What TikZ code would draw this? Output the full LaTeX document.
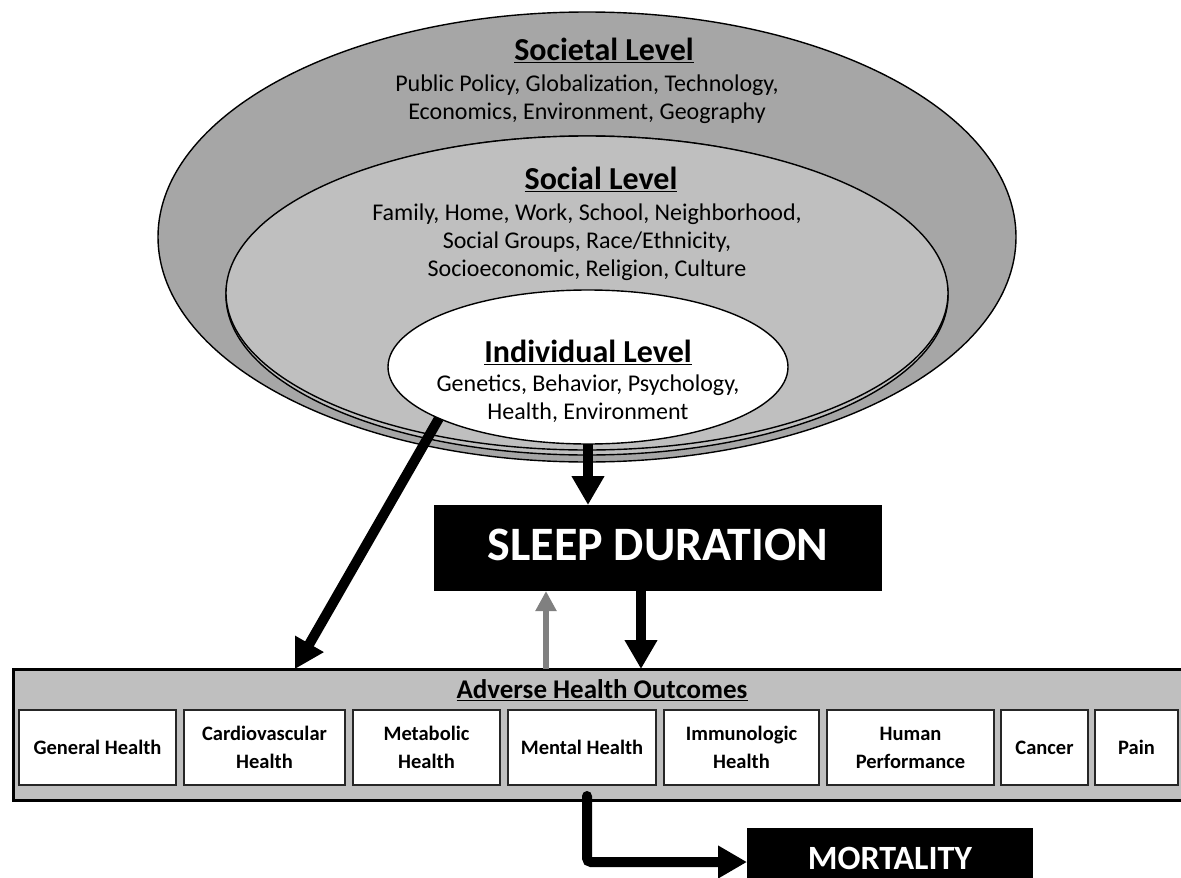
\documentclass[tikz,border=0pt]{standalone}
\usepackage{fontspec}
\setmainfont{Carlito}
\usetikzlibrary{shapes.geometric}
\usetikzlibrary{arrows.meta,positioning}
\definecolor{darkfill}{HTML}{A6A6A6}
\definecolor{lightfill}{HTML}{BFBFBF}
\definecolor{arrowgray}{HTML}{808080}
\tikzset{level/.style={ellipse,draw=black,line width=1.4pt,inner sep=0pt,outer sep=0pt},
    levelhead/.style={font=\fontsize{32}{36}\selectfont\bfseries,inner sep=0pt},
    leveltext/.style={font=\fontsize{24}{28}\selectfont,align=center,inner sep=0pt},
    outcome/.style={draw=black!85,fill=white,line width=1.2pt,minimum height=75pt,inner sep=0pt,outer sep=0pt,
        align=center,font=\fontsize{20.5}{28}\selectfont\bfseries},
    blackbox/.style={fill=black,text=white,inner sep=0pt,outer sep=0pt},
    fatarrow/.style={line width=10pt,-{Triangle[width=31pt,length=29pt]}},
    slimarrow/.style={arrowgray,line width=6pt,-{Triangle[width=20pt,length=20pt]}}
}
\begin{document}
\begin{tikzpicture}[x=1pt,y=-1pt]
           \useasboundingbox (0,0) rectangle (1181,878);
           \clip (0,0) rectangle (1181,878);
           \node[level,fill=darkfill,minimum width=858pt,minimum height=450pt] (societal) at (587,237) {};
           \node[level,fill=lightfill,minimum width=722pt,minimum height=319pt] (rim) at (587,295.5) {};
           \node[level,fill=lightfill,minimum width=722pt,minimum height=314pt] (social) at (587,293) {};
           \node[level,fill=white,minimum width=400pt,minimum height=154pt] (individual) at (588,367) {};
           \node[levelhead] (societalhead) at (604,50) {\underline{Societal Level}};
           \node[leveltext] (societaltext) at (587,99) {Public Policy, Globalization, Technology,\\Economics, Environment, Geography};
           \node[levelhead] (socialhead) at (601,179) {\underline{Social Level}};
           \node[leveltext] (socialtext) at (587,242) {Family, Home, Work, School, Neighborhood,\\Social Groups, Race/Ethnicity,\\Socioeconomic, Religion, Culture};
           \node[levelhead] (individualhead) at (588,352) {\underline{Individual Level}};
           \node[leveltext] (individualtext) at (588,398.5) {Genetics, Behavior, Psychology,\\Health, Environment};
           \node[blackbox,minimum width=448pt,minimum height=86pt,text depth=7pt,font=\fontsize{48}{50}\selectfont\bfseries] (sleep) at (658,548) {SLEEP DURATION};
           \node[draw=black,line width=3pt,fill=lightfill,minimum width=1177pt,minimum height=131pt,inner sep=0pt,outer sep=0pt] (outcomes) at (601.5,734.5) {};
           \node[font=\fontsize{27}{30}\selectfont\bfseries,inner sep=0pt] (outcomeshead) at (602,690) {\underline{Adverse Health Outcomes}};
           \node[outcome,minimum width=157pt] (general) at (97.5,747.5) {General Health};
           \node[outcome,minimum width=161pt,right=8pt of general] (cardio) {Cardiovascular\\Health};
           \node[outcome,minimum width=147pt,right=8pt of cardio] (metabolic) {Metabolic\\Health};
           \node[outcome,minimum width=148pt,right=8pt of metabolic] (mental) {Mental Health};
           \node[outcome,minimum width=155pt,right=8pt of mental] (immuno) {Immunologic\\Health};
           \node[outcome,minimum width=167pt,right=8pt of immuno] (performance) {Human\\Performance};
           \node[outcome,minimum width=87pt,right=7pt of performance] (cancer) {Cancer};
           \node[outcome,minimum width=83pt,right=7pt of cancer] (pain) {Pain};
           \node[blackbox,minimum width=286pt,minimum height=50pt,text height=32pt,text depth=0pt,font=\fontsize{34}{36}\selectfont\bfseries] (mortality) at (890,853) {MORTALITY};
           \coordinate (diagfoot) at (295,0);
           \coordinate (feedback) at (546,0);
           \coordinate (effect) at (641,0);
           \coordinate (death) at (587,0);
           \draw[fatarrow] (individual.south) -- (individual.south |- sleep.north);
           \draw[fatarrow] (individual.199) -- (diagfoot |- outcomes.north);
           \draw[slimarrow] (feedback |- outcomes.north) -- (feedback |- sleep.south);
           \draw[fatarrow] (effect |- sleep.south) -- (effect |- outcomes.north);
           \draw[fatarrow,line cap=round,rounded corners=4pt] ([yshift=4pt]death |- outcomes.south) |- ([yshift=-9pt]mortality.west);
         \end{tikzpicture}
\end{document}
